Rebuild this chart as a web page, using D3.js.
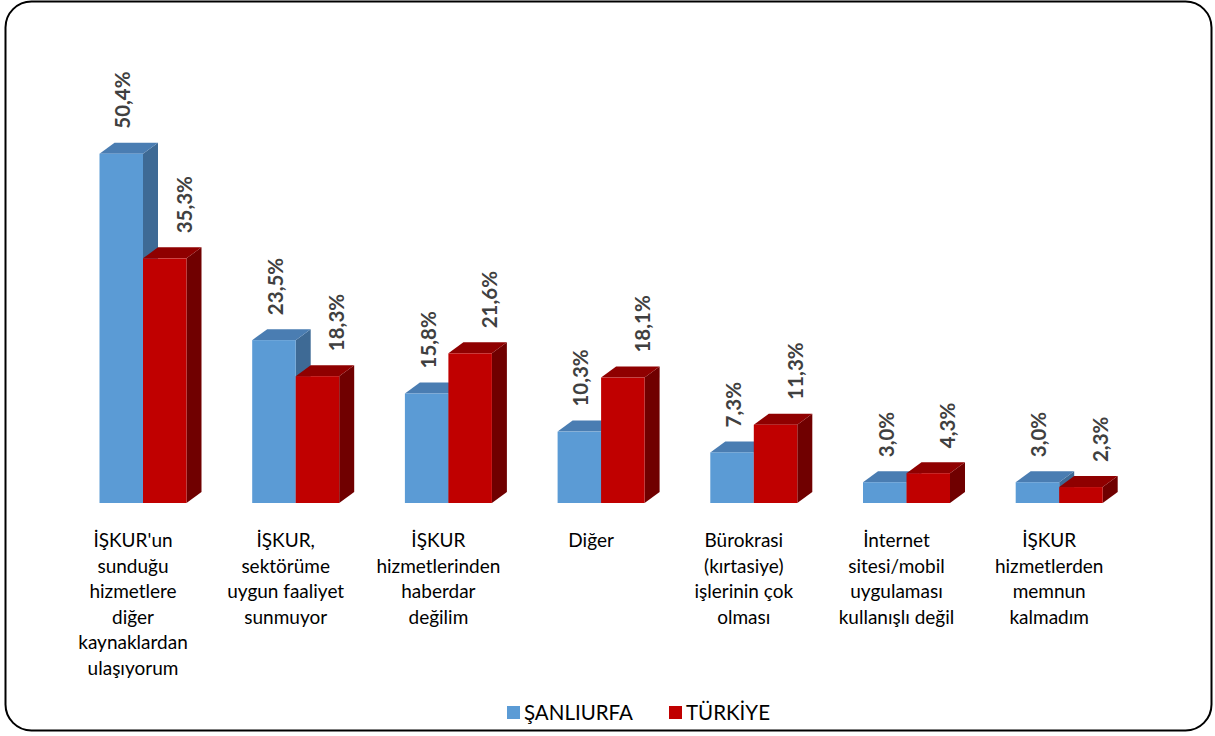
<!DOCTYPE html>
<html>
<head>
<meta charset="utf-8">
<script src="https://cdn.jsdelivr.net/npm/d3@7"></script>
<style>
  html, body { margin: 0; padding: 0; background: #fff; }
  svg { display: block; }
</style>
</head>
<body>
<svg id="chart" width="1215" height="736"></svg>
<script>
const categories = [
  "İŞKUR'un\nsunduğu\nhizmetlere\ndiğer\nkaynaklardan\nulaşıyorum",
  "İŞKUR,\nsektörüme\nuygun faaliyet\nsunmuyor",
  "İŞKUR\nhizmetlerinden\nhaberdar\ndeğilim",
  "Diğer",
  "Bürokrasi\n(kırtasiye)\nişlerinin çok\nolması",
  "İnternet\nsitesi/mobil\nuygulaması\nkullanışlı değil",
  "İŞKUR\nhizmetlerden\nmemnun\nkalmadım"
];
const seriesNames = ["ŞANLIURFA", "TÜRKİYE"];
const sanliurfa = [50.4, 23.5, 15.8, 10.3, 7.3, 3.0, 3.0];
const turkiye   = [35.3, 18.3, 21.6, 18.1, 11.3, 4.3, 2.3];

const series = [sanliurfa, turkiye];
const colors = [
  { front: "#5B9BD5", top: "#4A7DB2", side: "#3E6A95" },
  { front: "#C00000", top: "#8F0000", side: "#700000" }
];

const svg = d3.select("#chart");
const FONT = "Lato, 'Open Sans', sans-serif";

// chart border
svg.append("rect")
  .attr("x", 5.5).attr("y", 1.5)
  .attr("width", 1206).attr("height", 729)
  .attr("rx", 26).attr("ry", 26)
  .attr("fill", "#fff").attr("stroke", "#000").attr("stroke-width", 2);

const x = d3.scaleBand().domain(categories).range([66.65, 1135.55]).padding(0);
const y = d3.scaleLinear().domain([0, 60]).range([503, 87.2]);

const barW = 43.5, dx = 15, dy = 11;

const g = svg.append("g");

categories.forEach((c, i) => {
  const cx = x(c) + x.bandwidth() / 2;
  series.forEach((vals, s) => {
    const v = vals[i];
    const x0 = s === 0 ? cx - barW : cx;
    const x1 = x0 + barW;
    const yt = y(v), yb = y(0);
    const col = colors[s];
    g.append("path")
      .attr("d", `M${x1},${yb} L${x1 + dx},${yb - dy} L${x1 + dx},${yt - dy} L${x1},${yt} Z`)
      .attr("fill", col.side);
    g.append("path")
      .attr("d", `M${x0},${yt} L${x0 + dx},${yt - dy} L${x1 + dx},${yt - dy} L${x1},${yt} Z`)
      .attr("fill", col.top);
    g.append("rect")
      .attr("x", x0).attr("y", yt)
      .attr("width", barW).attr("height", yb - yt)
      .attr("fill", col.front);
  });
});

// data labels
categories.forEach((c, i) => {
  const cx = x(c) + x.bandwidth() / 2;
  series.forEach((vals, s) => {
    const v = vals[i];
    const lx = s === 0 ? cx - barW / 2 + 1 : cx + barW / 2 + 19;
    const ly = y(v) - 25;
    g.append("text")
      .attr("transform", `translate(${lx},${ly}) rotate(-90)`)
      .attr("text-anchor", "start")
      .attr("dominant-baseline", "central")
      .attr("font-family", FONT)
      .attr("font-weight", "bold")
      .attr("font-size", 20.5)
      .attr("fill", "#404040")
      .text(v.toFixed(1).replace(".", ",") + "%");
  });
});

// category labels
categories.forEach((c) => {
  const cx = x(c) + x.bandwidth() / 2 - 10;
  const lines = c.split("\n");
  const t = g.append("text")
    .attr("text-anchor", "middle")
    .attr("font-family", FONT)
    .attr("font-size", 19)
    .attr("fill", "#000");
  lines.forEach((ln, k) => {
    t.append("tspan")
      .attr("x", cx)
      .attr("y", 547 + k * 25.5)
      .text(ln);
  });
});

// legend
const legendX = [507, 669];
seriesNames.forEach((n, s) => {
  svg.append("rect")
    .attr("x", legendX[s]).attr("y", 706)
    .attr("width", 13).attr("height", 13)
    .attr("fill", colors[s].front);
  svg.append("text")
    .attr("x", legendX[s] + 17).attr("y", 720)
    .attr("font-family", FONT)
    .attr("font-size", 20.5)
    .attr("fill", "#000")
    .text(n);
});
</script>
</body>
</html>
